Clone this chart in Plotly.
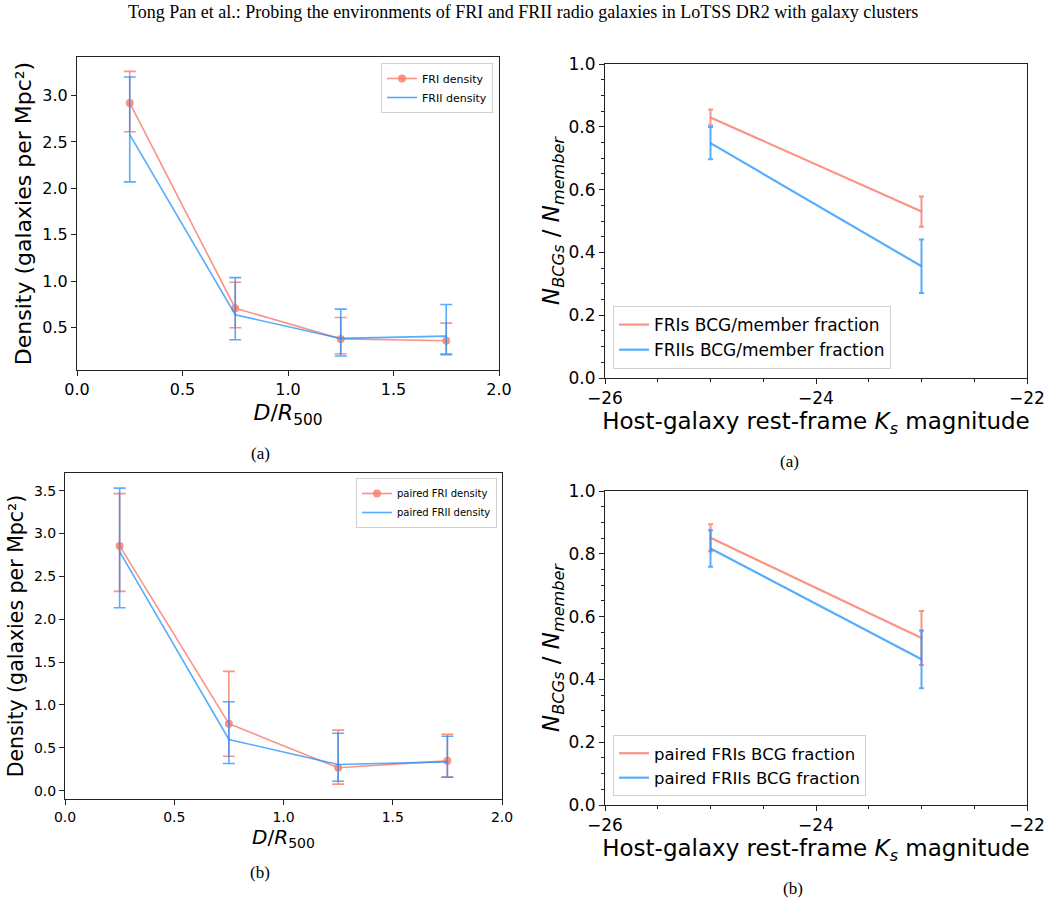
import plotly.graph_objects as go

# ---------------- data ----------------
dist = [0.25, 0.75, 1.25, 1.75]

fri_density = [2.92, 0.71, 0.38, 0.36]
fri_density_up = [0.34, 0.28, 0.23, 0.19]
fri_density_dn = [0.31, 0.21, 0.16, 0.14]

frii_density = [2.58, 0.64, 0.385, 0.41]
frii_density_up = [0.62, 0.40, 0.315, 0.34]
frii_density_dn = [0.51, 0.27, 0.19, 0.20]

pfri_density = [2.856, 0.782, 0.267, 0.348]
pfri_density_up = [0.61, 0.61, 0.44, 0.31]
pfri_density_dn = [0.53, 0.38, 0.19, 0.19]

pfrii_density = [2.79, 0.597, 0.305, 0.336]
pfrii_density_up = [0.74, 0.44, 0.365, 0.30]
pfrii_density_dn = [0.655, 0.28, 0.195, 0.18]

mag = [-25, -23]
fri_frac = [0.830, 0.530]
fri_frac_err = [0.025, 0.048]
frii_frac = [0.748, 0.356]
frii_frac_err = [0.051, 0.085]

pfri_frac = [0.851, 0.532]
pfri_frac_err = [0.043, 0.086]
pfrii_frac = [0.817, 0.464]
pfrii_frac_err = [0.058, 0.092]

# ---------------- styles ----------------
RED = "rgba(250,128,114,0.85)"
BLUE = "rgba(30,144,255,0.75)"
FONT = "DejaVu Sans"
W, H = 1051, 904


def xd(a, b):
    return [a / W, b / W]


def yd(top, bottom):
    return [1 - bottom / H, 1 - top / H]


fig = go.Figure()

# ---- top-left ----
fig.add_trace(go.Scatter(
    x=dist, y=fri_density, mode="lines+markers", name="FRI density",
    line=dict(color=RED, width=1.6), marker=dict(color=RED, size=8),
    error_y=dict(type="data", symmetric=False, array=fri_density_up, arrayminus=fri_density_dn,
                 color=RED, thickness=1.6, width=6),
    xaxis="x", yaxis="y", legend="legend"))
fig.add_trace(go.Scatter(
    x=dist, y=frii_density, mode="lines", name="FRII density",
    line=dict(color=BLUE, width=1.6),
    error_y=dict(type="data", symmetric=False, array=frii_density_up, arrayminus=frii_density_dn,
                 color=BLUE, thickness=1.6, width=6),
    xaxis="x", yaxis="y", legend="legend"))

# ---- top-right ----
fig.add_trace(go.Scatter(
    x=mag, y=fri_frac, mode="lines", name="FRIs BCG/member fraction",
    line=dict(color=RED, width=2.2),
    error_y=dict(type="data", array=fri_frac_err, color=RED, thickness=2, width=2.5),
    xaxis="x2", yaxis="y2", legend="legend2"))
fig.add_trace(go.Scatter(
    x=mag, y=frii_frac, mode="lines", name="FRIIs BCG/member fraction",
    line=dict(color=BLUE, width=2.2),
    error_y=dict(type="data", array=frii_frac_err, color=BLUE, thickness=2, width=2.5),
    xaxis="x2", yaxis="y2", legend="legend2"))

# ---- bottom-left ----
fig.add_trace(go.Scatter(
    x=dist, y=pfri_density, mode="lines+markers", name="paired FRI density",
    line=dict(color=RED, width=1.6), marker=dict(color=RED, size=8),
    error_y=dict(type="data", symmetric=False, array=pfri_density_up, arrayminus=pfri_density_dn,
                 color=RED, thickness=1.6, width=6),
    xaxis="x3", yaxis="y3", legend="legend3"))
fig.add_trace(go.Scatter(
    x=dist, y=pfrii_density, mode="lines", name="paired FRII density",
    line=dict(color=BLUE, width=1.6),
    error_y=dict(type="data", symmetric=False, array=pfrii_density_up, arrayminus=pfrii_density_dn,
                 color=BLUE, thickness=1.6, width=6),
    xaxis="x3", yaxis="y3", legend="legend3"))

# ---- bottom-right ----
fig.add_trace(go.Scatter(
    x=mag, y=pfri_frac, mode="lines", name="paired FRIs BCG fraction",
    line=dict(color=RED, width=2.2),
    error_y=dict(type="data", array=pfri_frac_err, color=RED, thickness=2, width=2.5),
    xaxis="x4", yaxis="y4", legend="legend4"))
fig.add_trace(go.Scatter(
    x=mag, y=pfrii_frac, mode="lines", name="paired FRIIs BCG fraction",
    line=dict(color=BLUE, width=2.2),
    error_y=dict(type="data", array=pfrii_frac_err, color=BLUE, thickness=2, width=2.5),
    xaxis="x4", yaxis="y4", legend="legend4"))


def ax(**kw):
    base = dict(showline=True, mirror=True, linecolor="#222", linewidth=1, showgrid=False,
                zeroline=False, ticks="outside", ticklen=5, tickwidth=1, tickcolor="#222",
                automargin=False)
    base.update(kw)
    return base


xt_left = r"<i>D</i>/<i>R</i><sub>500</sub>"
yt_left = "Density (galaxies per Mpc²)"
xt_right = "Host-galaxy rest-frame <i>K<sub>s</sub></i> magnitude"
yt_right = "<i>N<sub>BCGs</sub></i> / <i>N<sub>member</sub></i>"

fig.update_layout(
    width=W, height=H, margin=dict(l=0, r=0, t=0, b=0, autoexpand=False),
    paper_bgcolor="white", plot_bgcolor="white",
    font=dict(family=FONT, color="black", size=12),
    showlegend=True,
    xaxis=ax(domain=xd(77, 499), range=[0, 2], dtick=0.5, tickformat=".1f", anchor="y",
             tickfont=dict(size=16), title=dict(text=xt_left, font=dict(size=22), standoff=6)),
    yaxis=ax(domain=yd(57, 370), range=[0.045, 3.415], dtick=0.5, tick0=0, tickformat=".1f", anchor="x",
             tickfont=dict(size=16), title=dict(text=yt_left, font=dict(size=22), standoff=4)),
    xaxis2=ax(domain=xd(605, 1027), range=[-26, -22], dtick=2, anchor="y2",
              tickfont=dict(size=17),
              minor=dict(dtick=0.5, ticks="outside", ticklen=3, tickcolor="#222"),
              title=dict(text=xt_right, font=dict(size=23), standoff=3)),
    yaxis2=ax(domain=yd(64, 378), range=[0, 1], dtick=0.2, tickformat=".1f", anchor="x2",
              tickfont=dict(size=17),
              minor=dict(dtick=0.05, ticks="outside", ticklen=3, tickcolor="#222"),
              title=dict(text=yt_right, font=dict(size=23), standoff=2)),
    xaxis3=ax(domain=xd(65, 502), range=[0, 2], dtick=0.5, tickformat=".1f", anchor="y3",
              tickfont=dict(size=14), title=dict(text=xt_left, font=dict(size=20), standoff=4)),
    yaxis3=ax(domain=yd(473, 799), range=[-0.097, 3.707], dtick=0.5, tick0=0, tickformat=".1f", anchor="x3",
              tickfont=dict(size=14), title=dict(text=yt_left, font=dict(size=20.5), standoff=4)),
    xaxis4=ax(domain=xd(605, 1027), range=[-26, -22], dtick=2, anchor="y4",
              tickfont=dict(size=17),
              minor=dict(dtick=0.5, ticks="outside", ticklen=3, tickcolor="#222"),
              title=dict(text=xt_right, font=dict(size=23), standoff=3)),
    yaxis4=ax(domain=yd(491, 805), range=[0, 1], dtick=0.2, tickformat=".1f", anchor="x4",
              tickfont=dict(size=17),
              minor=dict(dtick=0.05, ticks="outside", ticklen=3, tickcolor="#222"),
              title=dict(text=yt_right, font=dict(size=23), standoff=2)),
    legend=dict(x=493 / W, y=1 - 63 / H, xanchor="right", yanchor="top",
                font=dict(size=11), bgcolor="white", bordercolor="#d0d0d0", borderwidth=1),
    legend2=dict(x=613 / W, y=1 - 369 / H, xanchor="left", yanchor="bottom",
                 font=dict(size=17), bgcolor="white", bordercolor="#d0d0d0", borderwidth=1),
    legend3=dict(x=497 / W, y=1 - 478 / H, xanchor="right", yanchor="top",
                 font=dict(size=10), bgcolor="white", bordercolor="#d0d0d0", borderwidth=1),
    legend4=dict(x=613 / W, y=1 - 796 / H, xanchor="left", yanchor="bottom",
                 font=dict(size=16.5), bgcolor="white", bordercolor="#d0d0d0", borderwidth=1),
)

serif = "Liberation Serif"
annots = [
    dict(text="Tong Pan et al.: Probing the environments of FRI and FRII radio galaxies in LoTSS DR2 with galaxy clusters",
         x=523 / W, y=1 - 12 / H, size=18),
    dict(text="(a)", x=260 / W, y=1 - 453 / H, size=17),
    dict(text="(a)", x=789 / W, y=1 - 461 / H, size=17),
    dict(text="(b)", x=260 / W, y=1 - 872 / H, size=17),
    dict(text="(b)", x=793 / W, y=1 - 888 / H, size=17),
]
for a in annots:
    fig.add_annotation(text=a["text"], x=a["x"], y=a["y"], xref="paper", yref="paper",
                       showarrow=False, xanchor="center", yanchor="middle",
                       font=dict(family=serif, size=a["size"], color="black"))

fig.write_html("out.html")
